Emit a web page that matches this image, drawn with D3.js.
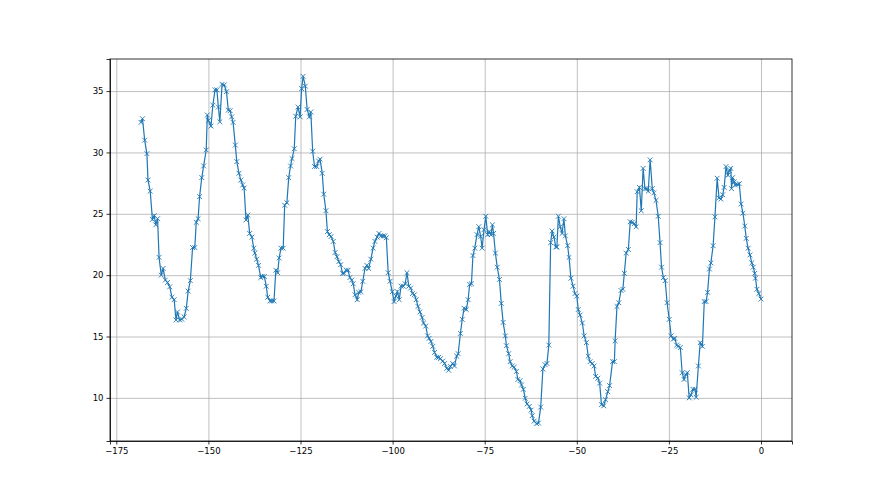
<!DOCTYPE html>
<html>
<head>
<meta charset="utf-8">
<script src="https://cdn.jsdelivr.net/npm/d3@7"></script>
<style>
body { margin: 0; background: #fff; }
.grid line { stroke: #b0b0b0; stroke-width: 0.8; }
.grid .domain { display: none; }
.axis text { font-family: "DejaVu Sans", sans-serif; font-size: 8.5px; fill: #000; }
.axis line, .axis path { stroke: #000; stroke-width: 0.8; }
.linePath { fill: none; stroke: #1f77b4; stroke-width: 1.2; }
.mark { stroke: #1f77b4; stroke-width: 0.9; }
</style>
</head>
<body>
<script>
var WIDTH = 880, HEIGHT = 495;
var MARGIN = {top: 59, right: 88, bottom: 54, left: 110};
var INNER_WIDTH = WIDTH - MARGIN.left - MARGIN.right,
    INNER_HEIGHT = HEIGHT - MARGIN.top - MARGIN.bottom;

// hours before now
var hours = [
 -168.3,-167.9,-167.3,-166.7,-166.4,-165.8,-165.2,-164.7,-164.3,-163.8,-163.4,-162.8,-162.3,-161.7,-161.1,-160.5,-159.9,-159.3,-158.8,-158.4,
 -157.8,-157.2,-156.6,-156.0,-155.5,-154.9,-154.3,-153.7,-153.3,-152.8,-152.4,-151.8,-151.3,-150.6,-150.3,-150.0,-149.3,-148.8,-148.2,-147.7,
 -147.3,-146.9,-146.3,-145.7,-145.1,-144.6,-144.1,-143.7,-143.3,-142.7,-142.3,-141.7,-141.2,-140.7,-140.3,-139.8,-139.3,-138.8,-138.2,-137.7,
 -137.4,-136.9,-136.4,-135.8,-135.4,-134.8,-134.3,-133.9,-133.3,-132.8,-132.2,-131.7,-131.2,-130.8,-130.3,-129.7,-129.3,-128.7,-128.2,-127.7,
 -127.3,-126.7,-126.3,-125.7,-125.1,-124.7,-124.3,-123.7,-123.2,-122.6,-122.2,-121.7,-121.2,-120.6,-120.1,-119.7,-119.1,-118.7,-118.1,-117.7,
 -117.2,-116.7,-116.1,-115.6,-115.1,-114.6,-114.1,-113.6,-113.2,-112.6,-112.1,-111.6,-111.1,-110.7,-110.2,-109.6,-109.2,-108.6,-108.1,-107.5,
 -107.0,-106.5,-105.9,-105.3,-104.8,-104.2,-103.7,-103.2,-102.6,-102.1,-101.7,-101.2,-100.7,-100.1,-99.6,-99.1,-98.7,-98.2,-97.7,-97.1,
 -96.6,-96.1,-95.6,-95.1,-94.6,-94.1,-93.6,-93.1,-92.6,-92.0,-91.6,-91.0,-90.5,-90.1,-89.6,-89.1,-88.6,-88.0,-87.5,-87.0,
 -86.4,-85.9,-85.3,-84.8,-84.3,-83.7,-83.2,-82.6,-82.2,-81.6,-81.1,-80.6,-80.0,-79.5,-79.1,-78.6,-78.2,-77.7,-77.1,-76.6,
 -76.1,-75.7,-75.2,-74.7,-74.2,-73.8,-73.3,-72.9,-72.6,-72.1,-71.6,-71.0,-70.5,-70.0,-69.4,-69.1,-68.5,-68.1,-67.5,-67.0,
 -66.4,-66.0,-65.4,-65.0,-64.5,-64.0,-63.5,-62.9,-62.4,-62.1,-61.6,-60.9,-60.4,-59.8,-59.2,-58.6,-58.1,-57.6,-57.1,-56.7,
 -56.2,-55.7,-55.4,-55.0,-54.5,-54.0,-53.5,-53.1,-52.5,-52.1,-51.6,-51.0,-50.5,-50.0,-49.6,-49.1,-48.5,-48.0,-47.4,-46.9,
 -46.4,-45.8,-45.3,-44.9,-44.3,-43.8,-43.3,-42.7,-42.2,-41.6,-41.1,-40.3,-39.8,-39.6,-39.1,-38.6,-38.0,-37.5,-37.1,-36.6,
 -36.0,-35.5,-35.0,-34.4,-33.9,-33.6,-33.0,-32.5,-32.0,-31.5,-31.0,-30.6,-30.1,-29.5,-29.1,-28.5,-27.9,-27.4,-27.0,-26.5,
 -26.0,-25.5,-24.9,-24.4,-23.8,-23.4,-22.9,-22.5,-21.9,-21.4,-20.9,-20.4,-20.0,-19.5,-19.0,-18.5,-17.9,-17.6,-17.0,-16.5,
 -15.9,-15.4,-14.9,-14.5,-14.0,-13.6,-13.0,-12.5,-11.9,-11.4,-10.9,-10.4,-10.0,-9.5,-9.0,-8.6,-8.2,-8.0,-7.7,-7.3,
 -7.0,-6.4,-5.9,-5.4,-4.9,-4.4,-4.0,-3.5,-3.0,-2.5,-2.1,-1.7,-1.5,-1.1,-0.6,0.0
];

var temps = [
 32.45,32.75,31.0,29.9,27.75,26.85,24.55,24.85,24.1,24.6,21.45,20.0,20.55,19.6,19.4,19.05,18.2,18.0,16.35,17.0,
 16.35,16.4,16.6,17.3,18.7,19.55,22.25,22.25,24.3,24.6,26.4,27.95,28.9,30.2,33.05,32.6,32.15,33.85,35.1,35.1,
 33.7,32.5,35.55,35.5,34.95,33.45,33.4,32.9,32.45,30.6,29.25,28.3,27.75,27.35,27.1,24.5,24.9,23.4,23.1,22.2,
 21.8,21.3,20.8,19.8,19.9,19.9,19.1,18.2,17.9,17.9,17.9,20.4,20.2,21.4,22.2,22.2,25.7,25.9,27.95,28.9,
 29.5,30.3,32.95,33.7,32.9,35.2,36.2,35.4,33.5,32.9,33.3,30.1,28.85,28.85,29.3,29.45,28.3,26.6,25.25,23.55,
 23.3,23.15,22.75,21.85,21.5,21.1,20.85,20.15,20.15,20.4,20.4,19.8,19.6,19.3,18.4,18.0,18.6,18.65,19.5,20.55,
 20.8,20.55,21.3,22.2,22.75,23.1,23.4,23.2,23.2,23.2,23.05,20.2,19.5,18.65,17.85,18.3,18.65,18.0,19.1,19.1,
 19.3,20.2,19.1,18.95,18.5,18.4,18.0,17.45,17.0,16.55,16.1,15.85,15.05,14.85,14.6,14.2,13.7,13.3,13.3,13.2,
 13.0,12.8,12.4,12.25,12.55,12.8,12.6,13.4,13.6,15.25,16.4,17.3,17.2,18.0,19.25,19.3,21.6,22.2,23.3,23.95,
 23.15,22.2,23.7,24.8,23.3,23.55,23.3,24.1,23.4,21.8,20.65,19.65,17.7,16.15,15.05,14.25,13.6,12.95,12.6,12.5,
 12.15,11.5,11.4,11.05,10.7,9.97,9.5,9.3,9.0,8.55,8.1,7.9,7.95,9.25,12.35,12.7,12.8,14.3,22.65,23.6,
 23.1,22.3,22.3,24.8,23.95,23.4,24.6,23.2,22.4,21.45,19.75,19.1,18.5,18.3,17.2,16.75,16.1,15.05,14.5,13.4,
 12.95,12.8,12.6,11.75,11.6,11.2,9.45,9.35,9.85,10.5,11.0,12.95,12.95,14.65,17.45,17.75,18.75,18.85,20.15,21.8,
 22.1,24.35,24.3,24.2,23.95,26.8,27.15,25.25,28.7,27.05,27.05,26.85,29.4,27.05,26.7,26.1,24.8,22.65,20.65,19.8,
 19.55,17.75,16.4,15.05,14.8,14.85,14.3,14.2,14.1,12.05,11.5,11.9,12.05,10.0,10.25,10.7,10.7,10.05,12.6,14.5,
 14.2,17.85,17.85,18.6,20.5,21.0,22.4,24.75,27.9,26.3,26.2,26.55,27.15,28.85,28.15,28.5,28.7,27.05,27.95,27.6,
 27.35,27.4,27.45,25.8,25.05,24.0,23.0,22.2,21.65,21.0,20.65,20.15,19.75,18.85,18.5,18.05
];

var xTicks = [-175, -150, -125, -100, -75, -50, -25, 0];
var yTicks = [10, 15, 20, 25, 30, 35];

var data = hours.map(function(h, i){ return {x: h, y: temps[i]}; });

var pad = function(ext){
    var d = (ext[1] - ext[0]) * 0.05;
    return [ext[0] - d, ext[1] + d];
};

var _xScale = d3.scaleLinear()
    .domain(pad(d3.extent(hours)))
    .range([0, INNER_WIDTH]);

var _yScale = d3.scaleLinear()
    .domain(pad(d3.extent(temps)))
    .range([INNER_HEIGHT, 0]);

var fmt = function(d){ return d < 0 ? '\u2212' + Math.abs(d) : '' + d; };

var _svg = d3.select('body').append('svg')
    .attr('width', WIDTH)
    .attr('height', HEIGHT);

var g = _svg.append('g')
    .attr('transform', 'translate(' + MARGIN.left + ',' + MARGIN.top + ')');

// grid
g.append('g').classed('grid', true)
    .attr('transform', 'translate(0,' + INNER_HEIGHT + ')')
    .call(d3.axisBottom(_xScale).tickValues(xTicks).tickSize(-INNER_HEIGHT).tickFormat(''));
g.append('g').classed('grid', true)
    .call(d3.axisLeft(_yScale).tickValues(yTicks).tickSize(-INNER_WIDTH).tickFormat(''));

// line + markers
var line = d3.line()
    .x(function(d){ return _xScale(d.x); })
    .y(function(d){ return _yScale(d.y); });

g.append('path').classed('linePath', true).attr('d', line(data));

var m = 2.4;
g.selectAll('.mark').data(data).enter()
    .append('path')
    .classed('mark', true)
    .attr('d', function(d){
        var cx = _xScale(d.x), cy = _yScale(d.y);
        return 'M' + (cx - m) + ',' + (cy - m) + 'L' + (cx + m) + ',' + (cy + m) +
               'M' + (cx - m) + ',' + (cy + m) + 'L' + (cx + m) + ',' + (cy - m);
    });

// axes
var xAxis = g.append('g').classed('axis', true)
    .attr('transform', 'translate(0,' + INNER_HEIGHT + ')')
    .call(d3.axisBottom(_xScale).tickValues(xTicks).tickSize(3.5).tickPadding(3).tickFormat(fmt));
var yAxis = g.append('g').classed('axis', true)
    .call(d3.axisLeft(_yScale).tickValues(yTicks).tickSize(3.5).tickPadding(3).tickFormat(fmt));

// frame
g.append('rect')
    .attr('width', INNER_WIDTH).attr('height', INNER_HEIGHT)
    .attr('fill', 'none').attr('stroke', '#000').attr('stroke-width', 0.8);
</script>
</body>
</html>
